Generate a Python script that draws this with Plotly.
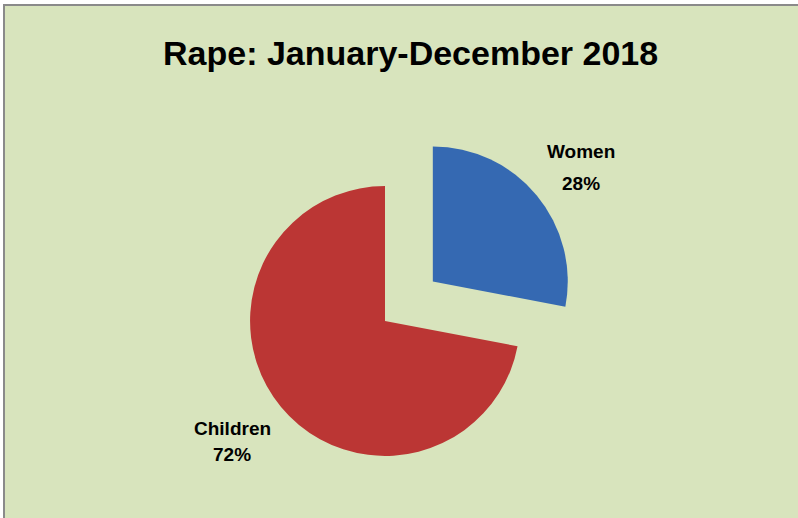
import plotly.graph_objects as go

title_text = "Rape: January-December 2018"
categories = ["Women", "Children"]
values = [28, 72]
colors = ["#3569b2", "#bb3634"]

total = sum(values)
pcts = [round(v * 100 / total) for v in values]

W, H = 798, 518
bg = "#d8e4bd"

fig = go.Figure()
fig.add_trace(go.Pie(
    labels=categories,
    values=values,
    marker=dict(colors=colors, line=dict(width=0)),
    pull=[0.46, 0],
    sort=False,
    direction="clockwise",
    rotation=0,
    textinfo="none",
    hoverinfo="label+percent",
    showlegend=False,
    domain=dict(x=[(385 - 197) / W, (385 + 197) / W], y=[0, 394 / H]),
))

# (x, name-line y, percent-line y) in pixels
label_pos = {"Women": (581, 151, 183), "Children": (232, 428, 454)}
lab_font = dict(family="Liberation Sans, Arial, sans-serif", size=19, color="#000000", weight="bold")
annotations = [
    dict(text=title_text, x=410 / W, y=1 - 53 / H, xref="paper", yref="paper",
         showarrow=False, xanchor="center", yanchor="middle",
         font=dict(family="Liberation Sans, Arial, sans-serif",
                   size=34, color="#000000", weight="bold")),
]
for cat, p in zip(categories, pcts):
    x, y1, y2 = label_pos[cat]
    for txt, yy in ((cat, y1), (f"{p}%", y2)):
        annotations.append(dict(
            text=txt, x=x / W, y=1 - yy / H, xref="paper", yref="paper",
            showarrow=False, xanchor="center", yanchor="middle", align="center",
            font=lab_font,
        ))

fig.update_layout(
    width=W, height=H,
    margin=dict(l=0, r=0, t=0, b=0),
    paper_bgcolor="#ffffff",
    plot_bgcolor="#ffffff",
    annotations=annotations,
    shapes=[dict(type="rect", xref="paper", yref="paper", layer="below",
                 x0=4 / W, x1=1.01, y0=-0.01, y1=1 - 5 / H,
                 fillcolor=bg, line=dict(color="#8a8a8a", width=2))],
)

fig.write_html(
    "out.html",
    config={"displayModeBar": False},
    post_script="document.body.style.margin='0';document.body.style.overflow='hidden';",
)
